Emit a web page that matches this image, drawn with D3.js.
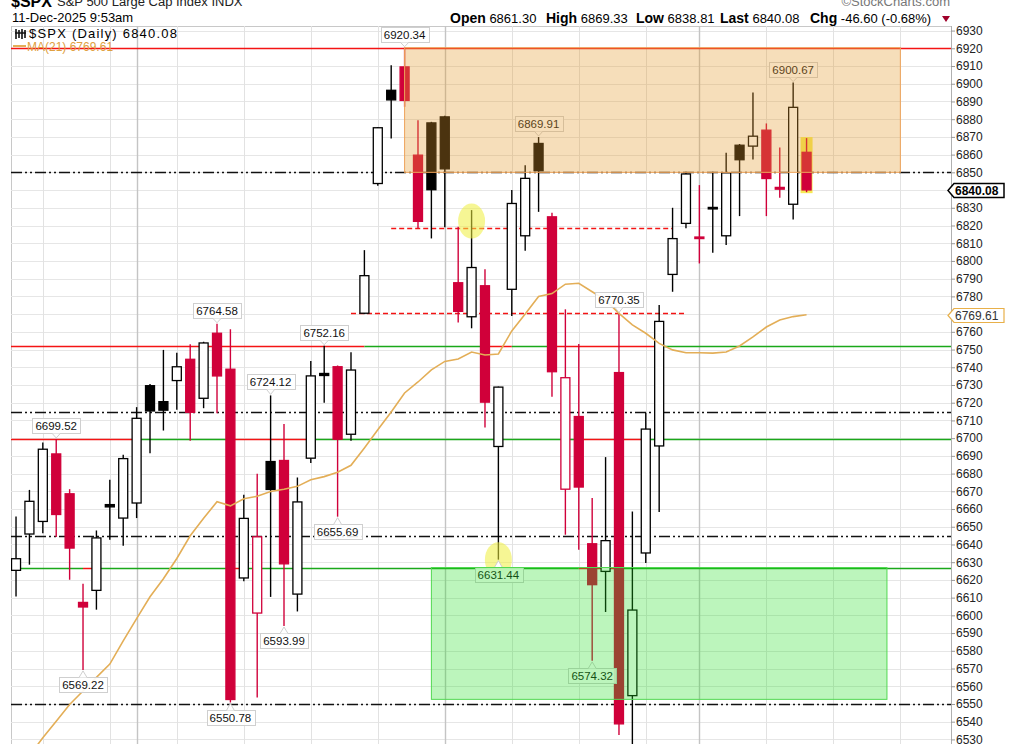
<!DOCTYPE html>
<html>
<head>
<meta charset="utf-8">
<script src="https://cdn.jsdelivr.net/npm/d3@7"></script>
<style>
  body { margin: 0; background: #fff; }
  svg { display: block; font-family: "Liberation Sans", Arial, sans-serif; }
</style>
</head>
<body>
<script>
//Trading sessions (the last ten are upcoming sessions, shown as empty space)
var dates = [
  "2025-09-18","2025-09-19","2025-09-22","2025-09-23","2025-09-24","2025-09-25","2025-09-26","2025-09-29","2025-09-30",
  "2025-10-01","2025-10-02","2025-10-03","2025-10-06","2025-10-07","2025-10-08","2025-10-09","2025-10-10","2025-10-13",
  "2025-10-14","2025-10-15","2025-10-16","2025-10-17","2025-10-20","2025-10-21","2025-10-22","2025-10-23","2025-10-24",
  "2025-10-27","2025-10-28","2025-10-29","2025-10-30","2025-10-31",
  "2025-11-03","2025-11-04","2025-11-05","2025-11-06","2025-11-07","2025-11-10","2025-11-11","2025-11-12","2025-11-13",
  "2025-11-14","2025-11-17","2025-11-18","2025-11-19","2025-11-20","2025-11-21","2025-11-24","2025-11-25","2025-11-26",
  "2025-11-28",
  "2025-12-01","2025-12-02","2025-12-03","2025-12-04","2025-12-05","2025-12-08","2025-12-09","2025-12-10","2025-12-11",
  "2025-12-12","2025-12-15","2025-12-16","2025-12-17","2025-12-18","2025-12-19","2025-12-22","2025-12-23","2025-12-24",
  "2025-12-26"
];

//Daily OHLC
var open = [6625.4,6645.9,6653.0,6691.1,6668.6,6607.3,6614.1,6662.5,6654.9,6663.4,
  6729.6,6720.6,6732.5,6744.5,6722.5,6759.2,6738.9,6621.1,6601.3,6686.8,
  6687.4,6612.0,6688.7,6736.5,6740.3,6702.2,6770.5,6843.7,6896.3,6909.5,
  6859.7,6877.9,6881.3,6787.7,6768.5,6786.0,6695.3,6784.0,6814.2,6866.3,
  6824.9,6671.2,6712.2,6640.4,6624.8,6737.0,6554.7,6635.2,6695.6,6792.4,
  6821.2,6813.5,6830.2,6814.2,6865.3,6864.8,6873.8,6841.5,6832.0,6861.30];
var high = [6655.8,6670.8,6697.5,6699.52,6671.2,6617.9,6647.9,6676.5,6690.6,6717.5,
  6730.6,6749.8,6748.2,6753.0,6754.4,6764.58,6761.4,6668.0,6679.9,6724.12,
  6708.0,6677.8,6743.6,6752.16,6741.0,6748.5,6806.1,6875.6,6910.4,6920.34,
  6879.4,6878.5,6882.0,6819.3,6828.7,6795.3,6729.1,6840.0,6854.0,6869.91,
  6827.2,6772.7,6753.1,6666.2,6689.3,6770.35,6658.6,6714.4,6775.1,6830.0,
  6850.3,6842.8,6850.3,6861.0,6866.0,6895.0,6877.6,6864.0,6900.67,6869.33];
var low = [6610.7,6628.6,6646.4,6644.2,6620.1,6569.22,6603.2,6642.7,6639.3,6654.9,
  6691.5,6704.3,6716.0,6698.5,6716.9,6714.1,6550.78,6619.2,6553.7,6610.4,
  6593.99,6602.2,6686.0,6720.0,6655.69,6698.5,6770.0,6842.4,6869.1,6887.0,
  6818.4,6812.7,6819.0,6765.2,6762.0,6706.0,6631.44,6769.0,6805.7,6827.7,
  6723.4,6645.5,6637.0,6574.32,6601.9,6532.5,6521.9,6629.5,6658.3,6782.6,
  6818.4,6798.6,6804.6,6809.0,6825.3,6857.3,6825.3,6835.6,6823.4,6838.81];
var close = [6631.96,6664.36,6693.75,6656.92,6637.97,6604.72,6643.70,6661.21,6688.46,6711.20,
  6715.35,6715.79,6740.28,6714.59,6753.72,6735.11,6552.51,6654.72,6644.31,6671.06,
  6629.07,6664.01,6735.13,6735.35,6699.40,6738.44,6791.69,6875.16,6890.89,6890.59,
  6822.34,6840.20,6851.97,6771.55,6796.29,6720.32,6728.80,6832.43,6846.61,6850.92,
  6737.49,6734.11,6672.41,6617.32,6642.16,6538.76,6602.99,6705.12,6765.88,6812.61,
  6849.09,6812.63,6829.37,6849.72,6857.12,6870.40,6846.51,6840.51,6886.68,6840.08];
var prevClose = 6600.35;

//21-day moving average
var ma21 = [6511.6,6520.9,6530.9,6540.2,6549.7,6557.3,6565.0,6572.5,6585.6,6598.2,
  6610.5,6620.7,6632.1,6644.9,6654.8,6664.1,6661.8,6665.8,6667.2,6669.9,
  6671.2,6672.8,6676.5,6678.3,6680.8,6684.7,6694.5,6704.7,6714.8,6725.5,
  6731.7,6738.5,6743.3,6744.7,6748.6,6746.9,6747.5,6760.5,6770.1,6779.9,
  6781.6,6786.9,6787.4,6782.6,6777.9,6770.4,6763.9,6759.2,6753.5,6749.8,
  6748.2,6748.2,6748.0,6748.6,6752.0,6757.1,6762.7,6766.7,6768.6,6769.61];

//Swing highs / lows that carry a price callout
var peakIdx = [3, 15, 19, 23, 29, 39, 45, 58];
var troughIdx = [5, 16, 20, 24, 36, 43];

//Drawn annotations
var topLevel = 6920.34;
var dashDotLevels = [6850, 6714.5, 6645, 6550];
var splitLevels = [6752.16, 6699.52, 6627];
var splitRedRanges = [
  [[-0.4, 26], [35, 37], [40, 48]],
  [[-0.4, 9], [16, 22], [42, 47]],
  [[5, 6], [16, 17], [42, 45.3]]
];
var dashLevels = [6818.4, 6770.35];
var dashFrom = [28, 25];
var dashTo = [49, 50];
var orangeZone = {from: 29, to: 66, low: 6850, high: 6920.34};
var greenZone = {from: 31, to: 65, low: 6552.6, high: 6627};
var circleIdx = [34, 36];
var circleVal = [6822.5, 6631.44];
var yTicks = d3.range(6530, 6931, 10);

//Dimensions
var svgWidth = 1011;
var svgHeight = 744;
var plot = {left: 11, right: 951, top: 26, bottom: 744};

var red = "#d0003a";
var lineRed = "#f41414";
var lineGreen = "#1aa81a";
var maColor = "#e3ae57";

var xScale = d3.scaleLinear().domain([-0.375, 69.78]).range([plot.left, plot.right]);
var yScale = d3.scaleLinear().domain([6920, 6530]).range([48.3, 739.4]);

//snap a horizontal line onto the pixel grid so it stays crisp
function crisp(v) { return Math.round(yScale(v)) + 0.5; }

var svg = d3.select("body").append("svg")
  .attr("width", svgWidth)
  .attr("height", svgHeight);

svg.append("defs").append("clipPath").attr("id", "plotclip")
  .append("rect")
  .attr("x", plot.left).attr("y", plot.top)
  .attr("width", plot.right - plot.left).attr("height", plot.bottom - plot.top);

//Header
svg.append("text").attr("x", 11).attr("y", 7)
  .attr("font-size", 16).attr("font-weight", "bold").text("$SPX");
svg.append("text").attr("x", 57).attr("y", 6)
  .attr("font-size", 13).attr("fill", "#222").text("S&P 500 Large Cap Index INDX");
svg.append("text").attr("x", 950).attr("y", 6).attr("text-anchor", "end")
  .attr("font-size", 13).attr("fill", "#777").text("\u00a9StockCharts.com");
svg.append("text").attr("x", 12).attr("y", 22)
  .attr("font-size", 13).text("11-Dec-2025 9:53am");

var n = close.length;
var last = close[n - 1];
var chg = last - close[n - 2];
var fmt = function(v) { return d3.format(".2f")(v).replace("\u2212", "-"); };
var header = [
  ["Open", fmt(open[n - 1]), 450],
  ["High", fmt(high[n - 1]), 546],
  ["Low", fmt(low[n - 1]), 636],
  ["Last", fmt(last), 720],
  ["Chg", fmt(chg) + " (" + fmt(chg / close[n - 2] * 100) + "%)", 810]
];
header.forEach(function(h) {
  var t = svg.append("text").attr("x", h[2]).attr("y", 23).attr("font-size", 14);
  t.append("tspan").attr("font-weight", "bold").text(h[0]);
  t.append("tspan").attr("font-size", 13).text(" " + h[1]);
});
svg.append("path")
  .attr("d", "M942,16 L950,16 L946,22 Z")
  .attr("fill", "#a0002a");

//Plot frame and grid
svg.append("rect")
  .attr("x", plot.left + 0.5).attr("y", plot.top + 0.5)
  .attr("width", plot.right - plot.left).attr("height", plot.bottom - plot.top + 5)
  .attr("fill", "#fff").attr("stroke", "#c8c8c8");

var grid = svg.append("g").attr("clip-path", "url(#plotclip)");
grid.selectAll(".hgrid").data(yTicks).enter().append("line")
  .attr("x1", plot.left).attr("x2", plot.right)
  .attr("y1", function(d) { return crisp(d); })
  .attr("y2", function(d) { return crisp(d); })
  .attr("stroke", "#e6e6e6");

var parsed = dates.map(function(d) { return new Date(d + "T00:00:00Z"); });
var vlines = [];
parsed.forEach(function(d, i) {
  if (i === 0) return;
  var monthStart = d.getUTCMonth() !== parsed[i - 1].getUTCMonth();
  if (monthStart || d.getUTCDay() === 1) vlines.push({i: i, dark: monthStart});
});
grid.selectAll(".vgrid").data(vlines).enter().append("line")
  .attr("x1", function(d) { return Math.round(xScale(d.i)) + 0.5; })
  .attr("x2", function(d) { return Math.round(xScale(d.i)) + 0.5; })
  .attr("y1", plot.top).attr("y2", plot.bottom)
  .attr("stroke", function(d) { return d.dark ? "#c4c4c4" : "#e2e2e2"; })
  .attr("stroke-width", function(d) { return d.dark ? 1.4 : 1; });

//Right axis
svg.append("line")
  .attr("x1", plot.right + 0.5).attr("x2", plot.right + 0.5)
  .attr("y1", plot.top).attr("y2", plot.bottom)
  .attr("stroke", "#b0b0b0");
var tagVals = [last, ma21[n - 1]];
var yAxis = d3.axisRight(yScale)
  .tickValues(yTicks.filter(function(t) {
    return tagVals.every(function(v) { return Math.abs(yScale(t) - yScale(v)) > 9; });
  }))
  .tickSize(4).tickPadding(1)
  .tickFormat(d3.format("d"));
var axisG = svg.append("g")
  .attr("transform", "translate(" + plot.right + ",0)")
  .call(yAxis);
axisG.select(".domain").remove();
axisG.selectAll("line").attr("stroke", "#999");
axisG.selectAll("text").attr("font-size", 12).attr("fill", "#222")
  .attr("font-family", "Liberation Sans, Arial, sans-serif");

var plotG = svg.append("g").attr("clip-path", "url(#plotclip)");

//Legend
var leg = svg.append("g");
leg.append("path")
  .attr("d", "M16,29 V39 M19,30 V38 M22,29 V39 M25,30 V38 M15,33 H26")
  .attr("stroke", "#111").attr("stroke-width", 1.6);
leg.append("text").attr("x", 29).attr("y", 38)
  .attr("font-size", 13).attr("textLength", 148).attr("lengthAdjust", "spacing")
  .text("$SPX (Daily) " + fmt(last));
leg.append("line").attr("x1", 13).attr("x2", 26).attr("y1", 46).attr("y2", 46)
  .attr("stroke", maColor).attr("stroke-width", 2);
leg.append("text").attr("x", 27).attr("y", 51)
  .attr("font-size", 12).attr("fill", "#e0a040")
  .text("MA(21) " + fmt(ma21[n - 1]));

//Highlight behind the latest bar
plotG.append("rect")
  .attr("x", xScale(n - 1) - 6).attr("width", 12)
  .attr("y", yScale(high[n - 1]) - 1)
  .attr("height", yScale(low[n - 1]) - yScale(high[n - 1]) + 2)
  .attr("fill", "#f6ea55");

//Level lines
plotG.append("line")
  .attr("x1", plot.left).attr("x2", plot.right)
  .attr("y1", crisp(topLevel)).attr("y2", crisp(topLevel))
  .attr("stroke", lineRed).attr("stroke-width", 1.5);

plotG.selectAll(".ddl").data(dashDotLevels).enter().append("line")
  .attr("x1", plot.left).attr("x2", plot.right)
  .attr("y1", function(d) { return crisp(d); })
  .attr("y2", function(d) { return crisp(d); })
  .attr("stroke", "#111").attr("stroke-width", 1.3)
  .attr("stroke-dasharray", "11,3,2,3,2,3");

//split lines: red where listed, green elsewhere
splitLevels.forEach(function(lv, k) {
  var y = crisp(lv);
  var segs = [];
  var pos = xScale.domain()[0];
  splitRedRanges[k].forEach(function(r) {
    if (r[0] > pos) segs.push([pos, r[0], lineGreen]);
    segs.push([Math.max(r[0], pos), r[1], lineRed]);
    pos = r[1];
  });
  segs.push([pos, xScale.domain()[1], lineGreen]);
  segs.forEach(function(s) {
    plotG.append("line")
      .attr("x1", xScale(s[0])).attr("x2", xScale(s[1]))
      .attr("y1", y).attr("y2", y)
      .attr("stroke", s[2]).attr("stroke-width", 1.5);
  });
});

dashLevels.forEach(function(lv, k) {
  plotG.append("line")
    .attr("x1", xScale(dashFrom[k])).attr("x2", xScale(dashTo[k]))
    .attr("y1", crisp(lv)).attr("y2", crisp(lv))
    .attr("stroke", lineRed).attr("stroke-width", 1.5)
    .attr("stroke-dasharray", "5,3");
});

//Candles
var candles = d3.range(n).map(function(i) {
  return {i: i, o: open[i], h: high[i], l: low[i], c: close[i], pc: i ? close[i - 1] : prevClose};
});
var bw = 9;
var cg = plotG.selectAll(".candle").data(candles).enter().append("g");
cg.append("line")
  .attr("x1", function(d) { return xScale(d.i); })
  .attr("x2", function(d) { return xScale(d.i); })
  .attr("y1", function(d) { return yScale(d.h); })
  .attr("y2", function(d) { return yScale(d.l); })
  .attr("stroke", function(d) { return d.c < d.pc ? red : "#000"; })
  .attr("stroke-width", 1.4);
cg.append("rect")
  .attr("x", function(d) { return xScale(d.i) - bw / 2; })
  .attr("width", bw)
  .attr("y", function(d) { return yScale(Math.max(d.o, d.c)); })
  .attr("height", function(d) { return Math.max(1.5, Math.abs(yScale(d.o) - yScale(d.c))); })
  .attr("fill", function(d) { return d.c > d.o ? "#fff" : (d.c < d.pc ? red : "#000"); })
  .attr("stroke", function(d) { return d.c < d.pc ? red : "#000"; })
  .attr("stroke-width", 1.3);

//Moving average
plotG.append("path")
  .datum(ma21)
  .attr("d", d3.line()
    .x(function(d, i) { return xScale(i); })
    .y(function(d) { return yScale(d); }))
  .attr("fill", "none")
  .attr("stroke", maColor)
  .attr("stroke-width", 1.6);

//Yellow highlight circles
plotG.selectAll(".hl").data(circleIdx).enter().append("ellipse")
  .attr("cx", function(d) { return xScale(d); })
  .attr("cy", function(d, k) { return yScale(circleVal[k]); })
  .attr("rx", 13.5).attr("ry", 17.5)
  .attr("fill", "#eeee3c").attr("opacity", 0.55);

//Price callouts
function callout(i, value, above) {
  var cx = xScale(i);
  var tip = above ? yScale(value) - 1 : yScale(value) + 1;
  var g = plotG.append("g");
  var boxTop = Math.round(above ? tip - 20 : tip + 6) + 0.5;
  var rect = g.append("rect").attr("y", boxTop).attr("height", 15)
    .attr("fill", "#fff").attr("fill-opacity", 0.9)
    .attr("stroke", "#cfcfcf");
  var t = g.append("text").attr("x", cx).attr("y", boxTop + 11.5)
    .attr("text-anchor", "middle").attr("font-size", 11.5).attr("fill", "#111")
    .text(fmt(value));
  var w = t.node().getComputedTextLength() + 6;
  rect.attr("x", Math.round(cx - w / 2) + 0.5).attr("width", Math.round(w));
  var base = above ? boxTop + 15 : boxTop;
  g.append("path")
    .attr("d", "M" + (cx - 4) + "," + base + " L" + cx + "," + tip + " L" + (cx + 4) + "," + base)
    .attr("fill", "#fff").attr("stroke", "#cfcfcf");
}
peakIdx.forEach(function(i) { callout(i, high[i], true); });
troughIdx.forEach(function(i) { callout(i, low[i], false); });

//Shaded zones on top (semi-transparent)
[[orangeZone, "#e39a2d", "#eea35a", 0.33], [greenZone, "#22dd22", "#52d852", 0.3]].forEach(function(z) {
  var d = z[0];
  plotG.append("rect")
    .attr("x", xScale(d.from)).attr("width", xScale(d.to) - xScale(d.from))
    .attr("y", yScale(d.high)).attr("height", yScale(d.low) - yScale(d.high))
    .attr("fill", z[1]).attr("fill-opacity", z[3])
    .attr("stroke", z[2]).attr("stroke-width", 1);
});

//Price tags on the right axis
function tag(value, border, bold, color) {
  var y = Math.round(yScale(value)) + 0.5;
  svg.append("path")
    .attr("d", "M948," + y + " L954," + (y - 7) + " L1004," + (y - 7) + " L1004," + (y + 7) + " L954," + (y + 7) + " Z")
    .attr("fill", "#fff").attr("stroke", border).attr("stroke-width", bold ? 1.5 : 1.2);
  svg.append("text").attr("x", 955).attr("y", y + 4.5)
    .attr("font-size", 12).attr("font-weight", bold ? "bold" : "normal")
    .attr("fill", color).text(fmt(value));
}
tag(last, "#000", true, "#000");
tag(ma21[n - 1], "#e8b04a", false, "#333");
</script>
</body>
</html>
